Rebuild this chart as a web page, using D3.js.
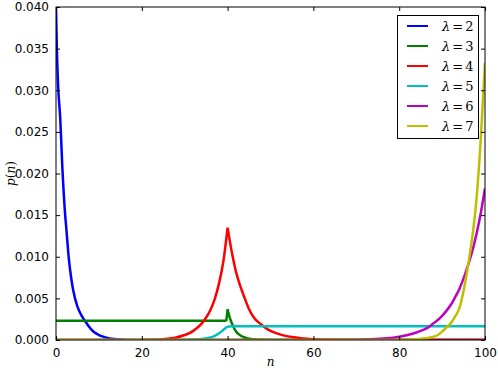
<!DOCTYPE html>
<html>
<head>
<meta charset="utf-8">
<script src="https://cdn.jsdelivr.net/npm/d3@7"></script>
<style>
  html, body { margin: 0; padding: 0; background: #fff; }
  svg { display: block; }
</style>
</head>
<body>
<svg id="chart" width="498" height="371"></svg>
<script>
// ---- data ----
const seriesLabels = ["2", "3", "4", "5", "6", "7"];
const seriesColors = ["#0000ff", "#008000", "#ff0000", "#00bfbf", "#bf00bf", "#bfbf00"];

const nBlue = [0, 0.2, 0.5, 1, 1.5, 2, 2.5, 3, 3.5, 4, 5, 6, 7, 8, 9, 10, 11, 12, 13, 14, 16, 18, 20, 100];
const pBlue = [0.0400, 0.0350, 0.0305, 0.0265, 0.0205, 0.0160, 0.0128, 0.0097, 0.0076, 0.0060, 0.0040, 0.0029, 0.0021, 0.0014, 0.0009, 0.0006, 0.0004, 0.00025, 0.00015, 0.0001, 0.00004, 0.00001, 0, 0];

const nGreen = [0, 39.7, 40, 40.5, 41, 42, 43, 44, 45, 46, 47, 48, 50, 100];
const pGreen = [0.0023, 0.0023, 0.0037, 0.0027, 0.0020, 0.0010, 0.00055, 0.0003, 0.00015, 0.00008, 0.00004, 0.00002, 0, 0];

const nRed = [0, 20, 22, 25, 28, 30, 31, 32, 33, 34, 35, 36, 37, 38, 39, 40, 41, 42, 43, 44, 45, 46, 47, 48, 49, 50, 52, 55, 60, 65, 70, 100];
const pRed = [0, 0.00001, 0.00003, 0.0001, 0.0003, 0.0006, 0.0008, 0.0011, 0.0015, 0.0020, 0.0027, 0.0036, 0.0049, 0.0068, 0.0094, 0.0135, 0.0105, 0.0081, 0.0064, 0.0050, 0.0037, 0.0028, 0.0022, 0.0018, 0.0014, 0.0011, 0.0007, 0.00035, 0.0001, 0.00003, 0, 0];

const nCyan = [0, 28, 30, 32, 34, 35, 36, 37, 38, 39, 40, 41, 100];
const pCyan = [0, 0, 0.00002, 0.00005, 0.00012, 0.0002, 0.0003, 0.0005, 0.0008, 0.0012, 0.0016, 0.00165, 0.00165];

const nMagenta = [0, 62, 65, 70, 73, 77, 80, 82, 84, 85, 86, 87, 88, 89, 90, 91, 92, 93, 94, 95, 96, 97, 98, 99, 100];
const pMagenta = [0, 0, 0.00001, 0.00004, 0.00008, 0.0002, 0.0004, 0.0006, 0.0009, 0.0011, 0.0013, 0.0016, 0.0020, 0.0024, 0.0029, 0.0035, 0.0042, 0.0051, 0.0061, 0.0074, 0.0089, 0.0106, 0.0127, 0.0152, 0.0182];

const nYellow = [0, 75, 80, 84, 86, 88, 89, 90, 91, 92, 93, 94, 95, 96, 97, 98, 99, 100];
const pYellow = [0, 0, 0.00003, 0.0001, 0.0002, 0.0004, 0.0006, 0.0010, 0.0015, 0.0020, 0.0028, 0.0038, 0.0059, 0.0088, 0.0122, 0.0168, 0.0240, 0.0333];

// n values where a series has a sharp corner (cusp) — curve is split there
const cusps = [[], [39.7, 40], [40], [], [], []];

const xTicks = [0, 20, 40, 60, 80, 100];
const yTicks = [0, 0.005, 0.010, 0.015, 0.020, 0.025, 0.030, 0.035, 0.040];

const allN = [nBlue, nGreen, nRed, nCyan, nMagenta, nYellow];
const allP = [pBlue, pGreen, pRed, pCyan, pMagenta, pYellow];

// ---- layout ----
const L = 56, R = 485, T = 7, B = 340;
const svg = d3.select("#chart");
const x = d3.scaleLinear().domain([0, 100]).range([L, R]);
const y = d3.scaleLinear().domain([0, 0.040]).range([B, T]);

svg.append("defs").append("clipPath").attr("id", "clip")
  .append("rect").attr("x", L).attr("y", T).attr("width", R - L).attr("height", B - T);

const line = d3.line().x(d => x(d[0])).y(d => y(d[1])).curve(d3.curveMonotoneX);

const plot = svg.append("g").attr("clip-path", "url(#clip)");
allN.forEach((ns, i) => {
  const pts = ns.map((n, j) => [n, allP[i][j]]);
  const segs = [];
  let cur = [];
  pts.forEach(p => {
    cur.push(p);
    if (cusps[i].includes(p[0])) { segs.push(cur); cur = [p]; }
  });
  if (cur.length > 1) segs.push(cur);
  const d = segs.map(s => line(s)).join("");
  plot.append("path")
    .attr("d", d)
    .attr("fill", "none")
    .attr("stroke", seriesColors[i])
    .attr("stroke-width", 2.5)
    .attr("stroke-linejoin", "round");
});

// ---- axes (ticks inward on all sides) ----
const font = "'DejaVu Sans', sans-serif";
const xAxisB = d3.axisBottom(x).tickValues(xTicks).tickSize(-4).tickPadding(8).tickFormat(d3.format("d"));
const xAxisT = d3.axisTop(x).tickValues(xTicks).tickSize(-4).tickFormat("");
const yAxisL = d3.axisLeft(y).tickValues(yTicks).tickSize(-4).tickPadding(7).tickFormat(d3.format(".3f"));
const yAxisR = d3.axisRight(y).tickValues(yTicks).tickSize(-4).tickFormat("");

function style(g) {
  g.select(".domain").remove();
  g.selectAll(".tick line").attr("stroke", "#000").attr("stroke-width", 1);
  g.selectAll(".tick text").attr("font-family", font).attr("font-size", 12).attr("fill", "#000");
}
svg.append("g").attr("transform", `translate(0,${B})`).call(xAxisB).call(style);
svg.append("g").attr("transform", `translate(0,${T})`).call(xAxisT).call(style);
svg.append("g").attr("transform", `translate(${L},0)`).call(yAxisL).call(style);
svg.append("g").attr("transform", `translate(${R},0)`).call(yAxisR).call(style);

svg.append("rect").attr("x", L).attr("y", T).attr("width", R - L).attr("height", B - T)
  .attr("fill", "none").attr("stroke", "#000").attr("stroke-width", 1);

// ---- axis labels ----
const serif = "'DejaVu Serif', 'Liberation Serif', serif";
svg.append("text").attr("x", (L + R) / 2).attr("y", 366).attr("text-anchor", "middle")
  .attr("font-family", serif).attr("font-style", "italic").attr("font-size", 12).text("n");
const yl = svg.append("text").attr("transform", `translate(15,${(T + B) / 2}) rotate(-90)`)
  .attr("text-anchor", "middle").attr("font-family", serif).attr("font-size", 12);
yl.append("tspan").attr("font-style", "italic").text("p");
yl.append("tspan").text("(");
yl.append("tspan").attr("font-style", "italic").text("n");
yl.append("tspan").text(")");

// ---- legend ----
const lg = svg.append("g");
lg.append("rect").attr("x", 397.5).attr("y", 15.5).attr("width", 81).attr("height", 123)
  .attr("fill", "#fff").attr("stroke", "#000").attr("stroke-width", 1);
seriesLabels.forEach((lab, i) => {
  const yy = 26 + i * 20;
  lg.append("line").attr("x1", 407).attr("x2", 428).attr("y1", yy).attr("y2", yy)
    .attr("stroke", seriesColors[i]).attr("stroke-width", 2);
  const t = lg.append("text").attr("x", 442).attr("y", yy + 4.5)
    .attr("font-family", serif).attr("font-size", 13);
  t.append("tspan").attr("font-style", "italic").text("λ");
  t.append("tspan").attr("dx", 2).text("=");
  t.append("tspan").attr("dx", 2).text(lab);
});
</script>
</body>
</html>
